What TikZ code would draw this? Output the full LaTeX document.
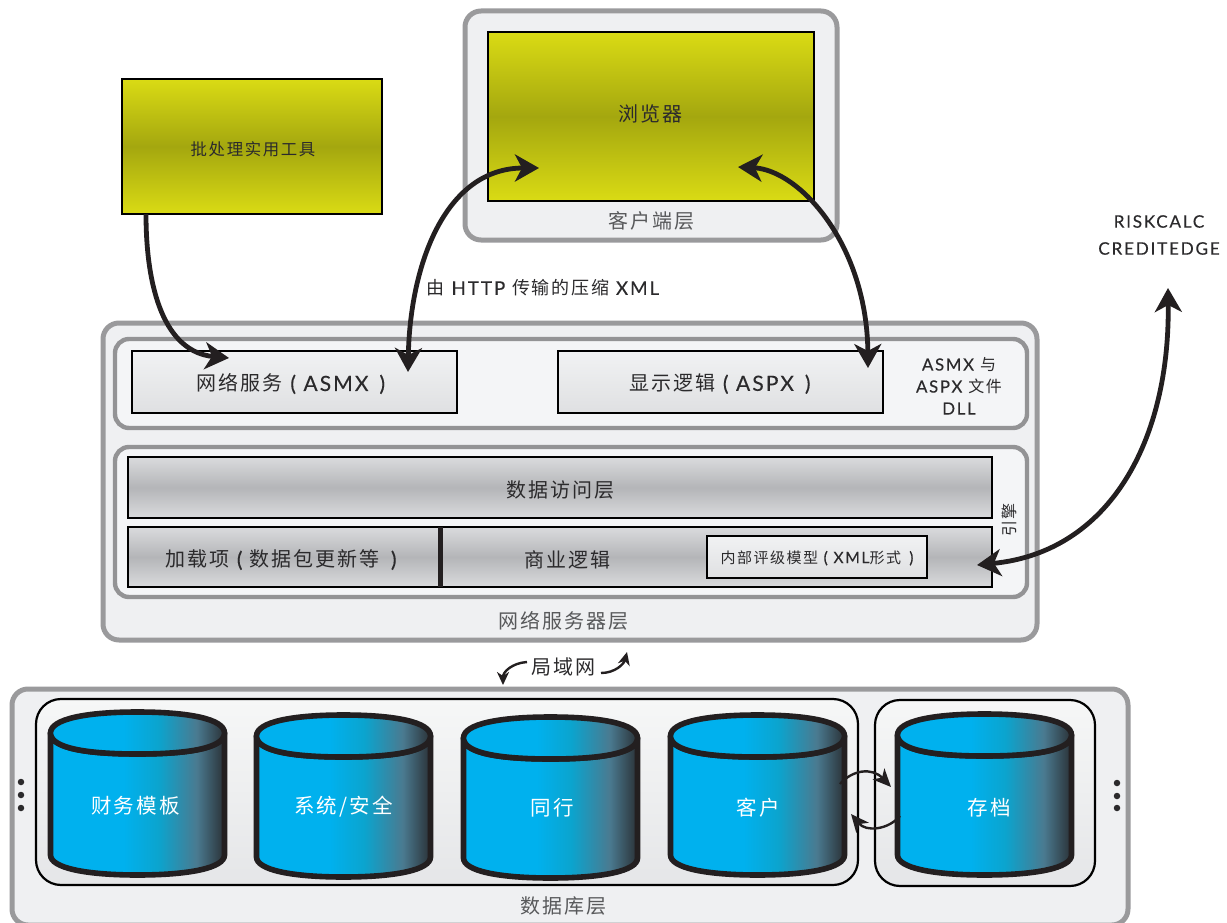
\documentclass[tikz,border=0pt]{standalone}
\usepackage{fontspec}
\setmainfont{Lato}[LetterSpace=10,FakeBold=0.25,Scale=1.05]
\newfontfamily\cjk{Noto Sans CJK SC}[LetterSpace=10]
\usetikzlibrary{arrows.meta}
\newcommand{\cn}[1]{{\cjk #1}}
\definecolor{txtdark}{HTML}{2B2A2C}
\definecolor{txtgray}{HTML}{58595B}
\definecolor{tierline}{HTML}{9A9A9C}
\definecolor{subline}{HTML}{939395}
\definecolor{tierfill}{HTML}{EFF0F2}
\definecolor{subfill}{HTML}{F4F5F7}
\definecolor{inka}{HTML}{231F20}
\definecolor{cyanA}{HTML}{00B1EE}
\definecolor{cyanB}{HTML}{0BA4CE}
\definecolor{cyanC}{HTML}{4A7A90}
\pgfdeclarehorizontalshading{cylshade}{100bp}{
  color(0bp)=(cyanA); color(25bp)=(cyanA); color(46bp)=(cyanA); color(56bp)=(cyanB);
  color(67bp)=(cyanC); color(77bp)=(inka); color(100bp)=(inka)}
\definecolor{oliveA}{HTML}{DADB14}
\definecolor{oliveB}{HTML}{A4A70F}
\definecolor{lightA}{HTML}{F1F2F3}
\definecolor{lightB}{HTML}{DFE0E2}
\definecolor{steelA}{HTML}{DADBDD}
\definecolor{steelB}{HTML}{B4B5B8}
\definecolor{groupA}{HTML}{F6F7F7}
\definecolor{groupB}{HTML}{E5E6E8}
\tikzset{
  box/.style={anchor=north west,inner sep=0pt,outer sep=0pt,align=center},
  tier/.style={box,draw=tierline,line width=5pt,fill=tierfill,rounded corners=16pt},
  subtier/.style={box,draw=subline,line width=4.4pt,fill=subfill,rounded corners=14pt},
  olive/.style={box,draw=black,line width=2.8pt,top color=oliveA,bottom color=oliveA,middle color=oliveB},
  lightbox/.style={box,draw=black,line width=2.8pt,top color=lightA,bottom color=lightB},
  steel/.style={box,draw=black,line width=2.8pt,top color=steelA,bottom color=steelA,middle color=steelB},
  dbgroup/.style={box,draw=black,line width=2.2pt,top color=groupA,bottom color=groupB,rounded corners=25pt},
  lab/.style={inner sep=0pt,outer sep=0pt,text=txtdark,font=\fontsize{20}{23}\selectfont,align=center},
  tierlab/.style={lab,text=txtgray},
  cyllab/.style={lab,text=white,font=\fontsize{20.5}{23}\selectfont},
  bigarrow/.style={line width=4.8pt,draw=inka},
  smallarrow/.style={line width=2.4pt,draw=inka},
  dotmark/.style={circle,fill=txtdark,inner sep=0pt,minimum size=6.5pt},
  bigtip/.tip={Stealth[length=24pt,width=27pt,inset=7pt]},
  smalltip/.tip={Stealth[length=18pt,width=16pt,inset=5pt]},
}
% \cyl{name}{left x}{top y}{bottom y}{label}{label position}
\newcommand{\cyl}[6]{%
  \pgfmathsetmacro{\xl}{#2+2.5}\pgfmathsetmacro{\xr}{#2+176.5}\pgfmathsetmacro{\xm}{#2+89.5}
  \pgfmathsetmacro{\yc}{#3+23}\pgfmathsetmacro{\yt}{#3+2}\pgfmathsetmacro{\ym}{#3+44}
  \pgfmathsetmacro{\ys}{#4-22}\pgfmathsetmacro{\yb}{#4-2}
  \pgfmathsetmacro{\xa}{#2+38}\pgfmathsetmacro{\xb}{#2+141}
  \path[shading=cylshade,draw=inka,line width=5.6pt,line join=round]
    (\xl,\yc) -- (\xl,\ys) .. controls (\xl,\yb-7) and (\xa,\yb) .. (\xm,\yb)
    .. controls (\xb,\yb) and (\xr,\yb-7) .. (\xr,\ys) -- (\xr,\yc)
    .. controls (\xr,\ym-6) and (\xb,\ym) .. (\xm,\ym) .. controls (\xa,\ym) and (\xl,\ym-6) .. (\xl,\yc) -- cycle;
  \path[shading=cylshade,draw=inka,line width=5.6pt]
    (\xl,\yc) .. controls (\xl,\yt+7) and (\xa,\yt) .. (\xm,\yt)
    .. controls (\xb,\yt) and (\xr,\yt+7) .. (\xr,\yc)
    .. controls (\xr,\ym-6) and (\xb,\ym) .. (\xm,\ym) .. controls (\xa,\ym) and (\xl,\ym-6) .. (\xl,\yc) -- cycle;
  \node[cyllab] (#1) at (#6) {\cn{#5}};
}
\begin{document}
\begin{tikzpicture}[x=1pt,y=-1pt]
\useasboundingbox (0,0) rectangle (1227,923);
% client tier
\node[tier,minimum width=372pt,minimum height=229pt] (clienttier) at (465,11) {};
\node[olive,minimum width=326pt,minimum height=169pt] (browser) at (488,32) {};
\node[lab] (browserlab) at (650,114) {\cn{浏览器}};
\node[tierlab] (clientlab) at (651,221) {\cn{客户端层}};
% batch
\node[olive,minimum width=260pt,minimum height=135pt] (batch) at (122,79) {};
\node[lab,font=\fontsize{16.4}{19}\selectfont] (batchlab) at (253,149) {\cn{批处理实用工具}};
% labels outside
\node[lab,font=\fontsize{16.4}{27}\selectfont,align=center] (risk) at (1159,235) {RISKCALC\\CREDITEDGE};
\node[lab,font=\fontsize{18}{20}\selectfont] (xmllab) at (543,288) {\cn{由} HTTP \cn{传输的压缩} XML};
% web tier
\node[tier,minimum width=934pt,minimum height=317pt] (webtier) at (103,323) {};
\node[subtier,minimum width=912pt,minimum height=89pt] (sub1) at (115,339) {};
\node[subtier,minimum width=912pt,minimum height=150pt] (sub2) at (115,447) {};
\node[lightbox,minimum width=325pt,minimum height=62pt] (asmx) at (132,351) {};
\node[lab] (asmxlab) at (291,384) {\cn{网络服务} ( ASMX\, )};
\node[lightbox,minimum width=325pt,minimum height=62pt] (aspx) at (558,351) {};
\node[lab] (aspxlab) at (720,384) {\cn{显示逻辑} ( ASPX\, )};
\node[lab,font=\fontsize{16}{22}\selectfont] (filelab) at (959,386) {ASMX \cn{与}\\ASPX \cn{文件}\\DLL};
\node[steel,minimum width=864pt,minimum height=61pt] (dal) at (128,457) {};
\node[lab] (dallab) at (560,490) {\cn{数据访问层}};
\node[steel,minimum width=864pt,minimum height=60pt] (biz) at (128,527) {};
\coordinate (divtop) at (440,527);
\coordinate (divbot) at (440,587);
\draw[line width=5pt,draw=inka] (divtop) -- (divbot);
\node[lab] (addlab) at (281,560) {\cn{加载项} ( \cn{数据包更新等}\, )};
\node[lab] (bizlab) at (567,560) {\cn{商业逻辑}};
\node[lightbox,minimum width=220pt,minimum height=42pt] (model) at (707,536) {};
\node[lab,font=\fontsize{15}{17}\selectfont] (modellab) at (817,558) {\cn{内部评级模型} ( XML\cn{形式}\, )};
\node[lab,font=\fontsize{16}{17}\selectfont,rotate=90] (enginelab) at (1009,520) {\cn{引擎}};
\node[tierlab] (weblab) at (563,621) {\cn{网络服务器层}};
% LAN
\node[lab] (lanlab) at (563,667) {\cn{局域网}};
% DB tier
\node[tier,minimum width=1116pt,minimum height=236pt] (dbtier) at (12,689) {};
\node[dbgroup,minimum width=822pt,minimum height=186pt] (group1) at (36,699) {};
\node[dbgroup,minimum width=220pt,minimum height=186pt] (group2) at (875,700) {};
\cyl{finance}{48}{710}{877}{财务模板}{135.5,806}
\cyl{system}{254}{713}{879}{系统/安全}{343.5,807}
\cyl{peer}{461}{715}{880}{同行}{552,808}
\cyl{client}{668}{713}{877}{客户}{758,808}
\cyl{archive}{895}{712}{877}{存档}{989,808}
\node[tierlab] (dblab) at (563,906) {\cn{数据库层}};
\node[dotmark] (dl1) at (21,782) {};
\node[dotmark] (dl2) at (21,795) {};
\node[dotmark] (dl3) at (21,808) {};
\node[dotmark] (dr1) at (1117,783) {};
\node[dotmark] (dr2) at (1117,796) {};
\node[dotmark] (dr3) at (1117,808) {};
% connector ends
\coordinate (batchout) at (146,214);
\coordinate (asmxin) at (229,358);
\coordinate (asmxtop) at (408,372);
\coordinate (browserl) at (539,168);
\coordinate (browserr) at (738,167);
\coordinate (aspxtop) at (868,368);
\coordinate (riskend) at (1168,288);
\coordinate (bizend) at (977,565);
\coordinate (lanla) at (527,662);
\coordinate (lanlb) at (503,685);
\coordinate (lanra) at (601,673);
\coordinate (lanrb) at (627,652);
\coordinate (cla) at (840,784);
\coordinate (clb) at (891,787);
\coordinate (cra) at (900,816);
\coordinate (crb) at (851,814);
% connectors
\draw[bigarrow,-{bigtip}] (batchout) .. controls (146,290) and (165,352) .. (asmxin);
\draw[bigarrow,{bigtip}-{bigtip}] (asmxtop) .. controls (410,265) and (445,168) .. (browserl);
\draw[bigarrow,{bigtip}-{bigtip}] (browserr) .. controls (800,170) and (867,245) .. (aspxtop);
\draw[bigarrow,{bigtip}-{bigtip}] (riskend) .. controls (1170,440) and (1110,552) .. (bizend);
\draw[smallarrow,-{Stealth[length=13pt,width=12pt,inset=4pt]}] (lanla) .. controls (512,663) and (503,672) .. (lanlb);
\draw[smallarrow,-{Stealth[length=13pt,width=12pt,inset=4pt]}] (lanra) .. controls (615,673) and (624,664) .. (lanrb);
\draw[smallarrow,-{smalltip}] (cla) .. controls (852,770) and (872,767) .. (clb);
\draw[smallarrow,-{smalltip}] (cra) .. controls (888,830) and (866,832) .. (crb);
\end{tikzpicture}
\end{document}
